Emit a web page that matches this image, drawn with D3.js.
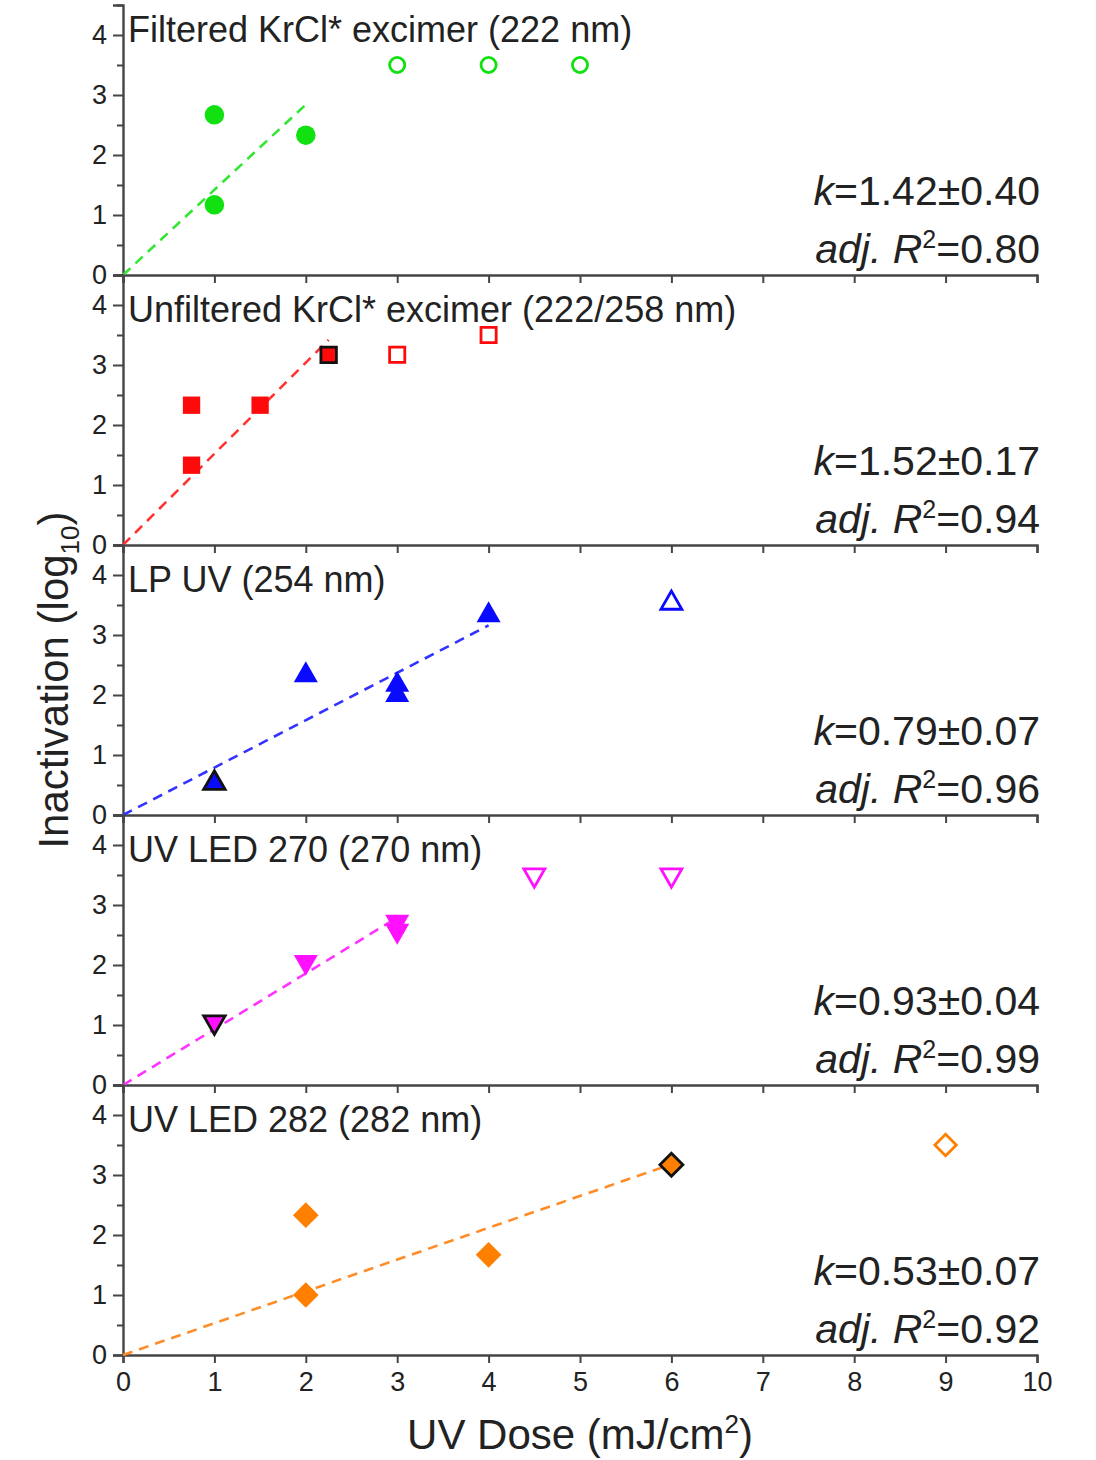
<!DOCTYPE html>
<html>
<head>
<meta charset="utf-8">
<script src="https://cdn.jsdelivr.net/npm/d3@7"></script>
<style>
  html, body { margin: 0; padding: 0; background: #fff; }
  svg { display: block; }
  text { font-family: "Liberation Sans", Arial, sans-serif; fill: #222; }
</style>
</head>
<body>
<svg id="chart" width="1096" height="1460"></svg>
<script>
// ---------- data ----------
const panelLabels = [
  "Filtered KrCl* excimer (222 nm)",
  "Unfiltered KrCl* excimer (222/258 nm)",
  "LP UV (254 nm)",
  "UV LED 270 (270 nm)",
  "UV LED 282 (282 nm)"
];
const panelColors = ["#11e011", "#ff0a0a", "#0a0aff", "#ff10ff", "#ff8000"];
const fitColors   = ["#33e633", "#ff3333", "#3333ff", "#ff33ff", "#ff8c26"];
const kValues  = ["1.42±0.40", "1.52±0.17", "0.79±0.07", "0.93±0.04", "0.53±0.07"];
const r2Values = ["0.80", "0.94", "0.96", "0.99", "0.92"];
const slopes   = [1.42, 1.52, 0.79, 0.93, 0.53];
const fitEndDose = [2, 2.25, 4, 3, 6];

// f = filled, b = filled with black outline, o = open (excluded)
const filteredDose = [1, 1, 2, 3, 4, 5];
const filteredInact = [2.67, 1.17, 2.33, 3.5, 3.5, 3.5];
const filteredType = ["f", "f", "f", "o", "o", "o"];

const unfilteredDose = [0.75, 0.75, 1.5, 2.25, 3, 4];
const unfilteredInact = [2.33, 1.33, 2.33, 3.17, 3.17, 3.5];
const unfilteredType = ["f", "f", "f", "b", "o", "o"];

const lpDose = [1, 2, 3, 3, 4, 6];
const lpInact = [0.53, 2.33, 2.17, 2.0, 3.33, 3.53];
const lpType = ["b", "f", "f", "f", "f", "o"];

const led270Dose = [1, 2, 3, 3, 4.5, 6];
const led270Inact = [1.05, 2.05, 2.72, 2.57, 3.5, 3.5];
const led270Type = ["b", "f", "f", "f", "o", "o"];

const led282Dose = [2, 2, 4, 6, 9];
const led282Inact = [2.33, 1.0, 1.67, 3.17, 3.5];
const led282Type = ["f", "f", "f", "b", "o"];

const panelDose = [filteredDose, unfilteredDose, lpDose, led270Dose, led282Dose];
const panelInact = [filteredInact, unfilteredInact, lpInact, led270Inact, led282Inact];
const panelType = [filteredType, unfilteredType, lpType, led270Type, led282Type];

const xTicks = [0, 1, 2, 3, 4, 5, 6, 7, 8, 9, 10];
const yTicks = [0, 1, 2, 3, 4];
const yMinorTicks = [0.5, 1.5, 2.5, 3.5, 4.5];

// ---------- layout ----------
const svg = d3.select("#chart");
const left = 123, right = 1037;
const firstTop = 5, panelH = 270;
const axisColor = "#454545";
const fontFam = "Liberation Sans, Arial, sans-serif";

const x = d3.scaleLinear().domain([0, 10]).range([left, right]);

const diamond = {
  draw(ctx, size) {
    const r = Math.sqrt(size / 2);
    ctx.moveTo(0, -r); ctx.lineTo(r, 0); ctx.lineTo(0, r); ctx.lineTo(-r, 0); ctx.closePath();
  }
};
const triDown = {
  draw(ctx, size) {
    const s = Math.sqrt(size * 4 / Math.sqrt(3));
    const h = s * Math.sqrt(3) / 2;
    ctx.moveTo(-s / 2, -h / 3); ctx.lineTo(s / 2, -h / 3); ctx.lineTo(0, 2 * h / 3); ctx.closePath();
  }
};
const triUp = {
  draw(ctx, size) {
    const s = Math.sqrt(size * 4 / Math.sqrt(3));
    const h = s * Math.sqrt(3) / 2;
    ctx.moveTo(-s / 2, h / 3); ctx.lineTo(s / 2, h / 3); ctx.lineTo(0, -2 * h / 3); ctx.closePath();
  }
};
const symbolTypes = [d3.symbolCircle, d3.symbolSquare, triUp, triDown, diamond];
const filledSizes = [300, 300, 250, 250, 330];
const openSizes   = [180, 230, 190, 190, 230];

panelLabels.forEach((label, i) => {
  const top = firstTop + i * panelH;
  const bottom = top + panelH;
  const y = d3.scaleLinear().domain([0, 4.5]).range([bottom, top]);
  const g = svg.append("g");

  // y axis
  const yAxis = d3.axisLeft(y).tickValues(yTicks).tickSize(10).tickPadding(6).tickFormat(d3.format("d"));
  const ya = g.append("g").attr("transform", `translate(${left},0)`).call(yAxis);
  ya.select(".domain").attr("stroke", axisColor).attr("stroke-width", 2.4);
  ya.selectAll(".tick line").attr("stroke", axisColor).attr("stroke-width", 2);
  ya.selectAll(".tick text").style("font-size", "27px").style("font-family", fontFam).attr("fill", "#222");
  const yMinor = d3.axisLeft(y).tickValues(yMinorTicks).tickSize(6).tickFormat("");
  const ym = g.append("g").attr("transform", `translate(${left},0)`).call(yMinor);
  ym.select(".domain").remove();
  ym.selectAll(".tick line").attr("stroke", axisColor).attr("stroke-width", 2);

  // x axis (bottom of every panel)
  const xAxis = d3.axisBottom(x).tickValues(xTicks).tickSize(8).tickPadding(9)
    .tickFormat(i === panelLabels.length - 1 ? d3.format("d") : "");
  const xa = g.append("g").attr("transform", `translate(0,${bottom})`).call(xAxis);
  xa.select(".domain").attr("stroke", axisColor).attr("stroke-width", 2.4);
  xa.selectAll(".tick line").attr("stroke", axisColor).attr("stroke-width", 2);
  xa.selectAll(".tick text").style("font-size", "27px").style("font-family", fontFam).attr("fill", "#222");

  // fit line
  const line = d3.line().x(d => x(d)).y(d => y(slopes[i] * d));
  g.append("path")
    .datum([0, fitEndDose[i]])
    .attr("d", line)
    .attr("fill", "none")
    .attr("stroke", fitColors[i])
    .attr("stroke-width", 2.6)
    .attr("stroke-dasharray", "10,7");

  // points
  const pts = panelDose[i].map((d, j) => ({ dose: d, inact: panelInact[i][j], type: panelType[i][j] }));
  g.selectAll("path.pt")
    .data(pts)
    .enter()
    .append("path")
    .attr("class", "pt")
    .attr("transform", d => `translate(${x(d.dose)},${y(d.inact)})`)
    .attr("d", d => d3.symbol().type(symbolTypes[i]).size(d.type === "o" ? openSizes[i] : (d.type === "b" ? filledSizes[i] * 0.8 : filledSizes[i]))())
    .attr("fill", d => d.type === "o" ? "#fff" : panelColors[i])
    .attr("stroke", d => d.type === "b" ? "#111" : panelColors[i])
    .attr("stroke-width", d => d.type === "f" ? 0 : 2.8);

  // panel label
  const labelY = i === 0 ? y(4) + 7 : y(4) + 17;
  g.append("text")
    .attr("x", left + 5)
    .attr("y", labelY)
    .style("font-size", "36px")
    .text(label);

  // statistics
  const kt = g.append("text")
    .attr("x", right + 3)
    .attr("y", bottom - 70)
    .attr("text-anchor", "end")
    .style("font-size", "41px");
  kt.append("tspan").style("font-style", "italic").text("k");
  kt.append("tspan").text("=" + kValues[i]);

  const rt = g.append("text")
    .attr("x", right + 3)
    .attr("y", bottom - 12)
    .attr("text-anchor", "end")
    .style("font-size", "41px");
  rt.append("tspan").style("font-style", "italic").text("adj. R");
  rt.append("tspan").attr("dy", -15).style("font-size", "25px").text("2");
  rt.append("tspan").attr("dy", 15).text("=" + r2Values[i]);
});

// axis titles
const lastBottom = firstTop + panelLabels.length * panelH;
svg.append("text")
  .attr("x", (left + right) / 2)
  .attr("y", lastBottom + 94)
  .attr("text-anchor", "middle")
  .style("font-size", "42px")
  .call(t => {
    t.append("tspan").text("UV Dose (mJ/cm");
    t.append("tspan").attr("dy", -16).style("font-size", "26px").text("2");
    t.append("tspan").attr("dy", 16).text(")");
  });

svg.append("text")
  .attr("transform", `translate(68,680) rotate(-90)`)
  .attr("text-anchor", "middle")
  .style("font-size", "42px")
  .call(t => {
    t.append("tspan").text("Inactivation (log");
    t.append("tspan").attr("dy", 11).style("font-size", "26px").text("10");
    t.append("tspan").attr("dy", -11).text(")");
  });
</script>
</body>
</html>
